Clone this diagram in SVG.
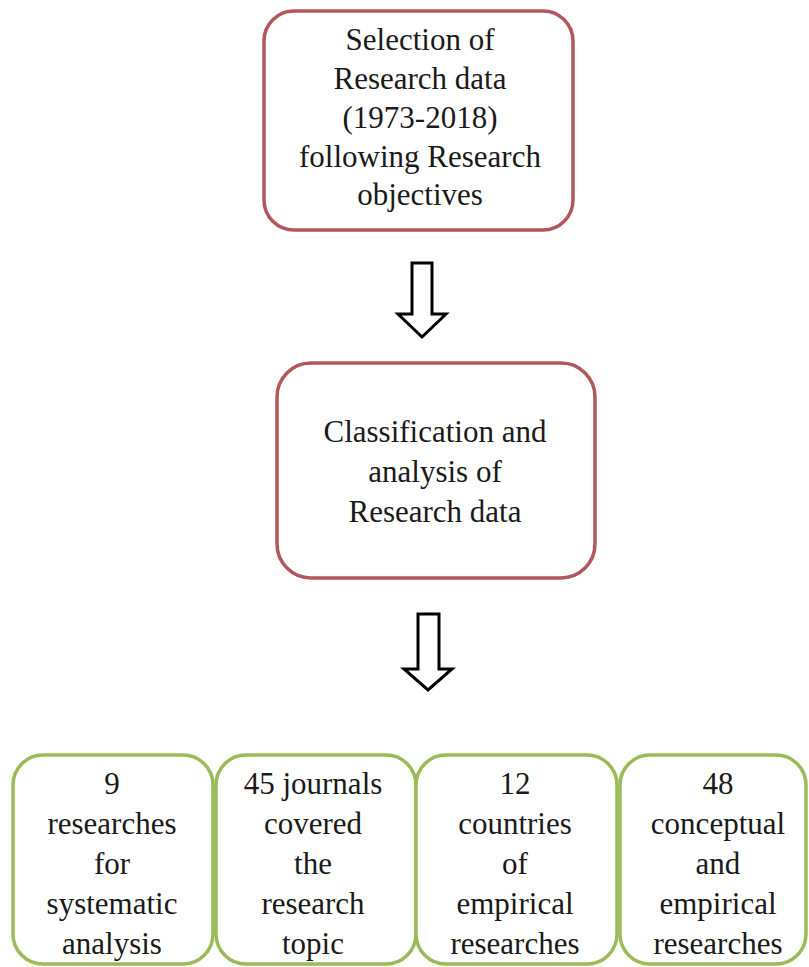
<svg xmlns="http://www.w3.org/2000/svg" width="809" height="967" viewBox="0 0 809 967">
<style>
.red{fill:#fff;stroke:#b0585a;stroke-width:3.5}
.green{fill:#fff;stroke:#9bbb59;stroke-width:3.5}
text{font-family:"Liberation Serif","Times New Roman",Tinos,"Noto Serif","DejaVu Serif",serif;font-size:31px;fill:#1a1a1a;text-anchor:middle}
.arr{fill:#fff;stroke:#000;stroke-width:3;stroke-linejoin:miter}
</style>
<rect width="809" height="967" fill="#fff"/>
<g id="connectors">
<polygon class="arr" points="412,263 432,263 432,314 446,314 422,337 398,314 412,314"/>
<polygon class="arr" points="418,614 439,614 439,669 452,669 428,690 404,669 418,669"/>
</g>
<g id="n1">
<rect class="red" x="264" y="11" width="309" height="219" rx="30"/>
<text x="420" y="50">Selection of</text>
<text x="420" y="89">Research data</text>
<text x="420" y="128">(1973-2018)</text>
<text x="420" y="167">following Research</text>
<text x="420" y="205">objectives</text>
</g>
<g id="n2">
<rect class="red" x="277" y="363" width="318" height="215" rx="34"/>
<text x="435" y="442">Classification and</text>
<text x="435" y="482">analysis of</text>
<text x="435" y="522">Research data</text>
</g>
<g id="n3">
<rect class="green" x="13" y="755" width="200" height="209" rx="30"/>
<text x="112" y="794">9</text>
<text x="112" y="834">researches</text>
<text x="112" y="874">for</text>
<text x="112" y="914">systematic</text>
<text x="112" y="954">analysis</text>
</g>
<g id="n4">
<rect class="green" x="216" y="755" width="200" height="209" rx="30"/>
<text x="313" y="794">45 journals</text>
<text x="313" y="834">covered</text>
<text x="313" y="874">the</text>
<text x="313" y="914">research</text>
<text x="313" y="954">topic</text>
</g>
<g id="n5">
<rect class="green" x="416" y="755" width="201" height="209" rx="30"/>
<text x="515" y="794">12</text>
<text x="515" y="834">countries</text>
<text x="515" y="874">of</text>
<text x="515" y="914">empirical</text>
<text x="515" y="954">researches</text>
</g>
<g id="n6">
<rect class="green" x="620" y="755" width="186" height="209" rx="30"/>
<text x="718" y="794">48</text>
<text x="718" y="834">conceptual</text>
<text x="718" y="874">and</text>
<text x="718" y="914">empirical</text>
<text x="718" y="954">researches</text>
</g>
</svg>
